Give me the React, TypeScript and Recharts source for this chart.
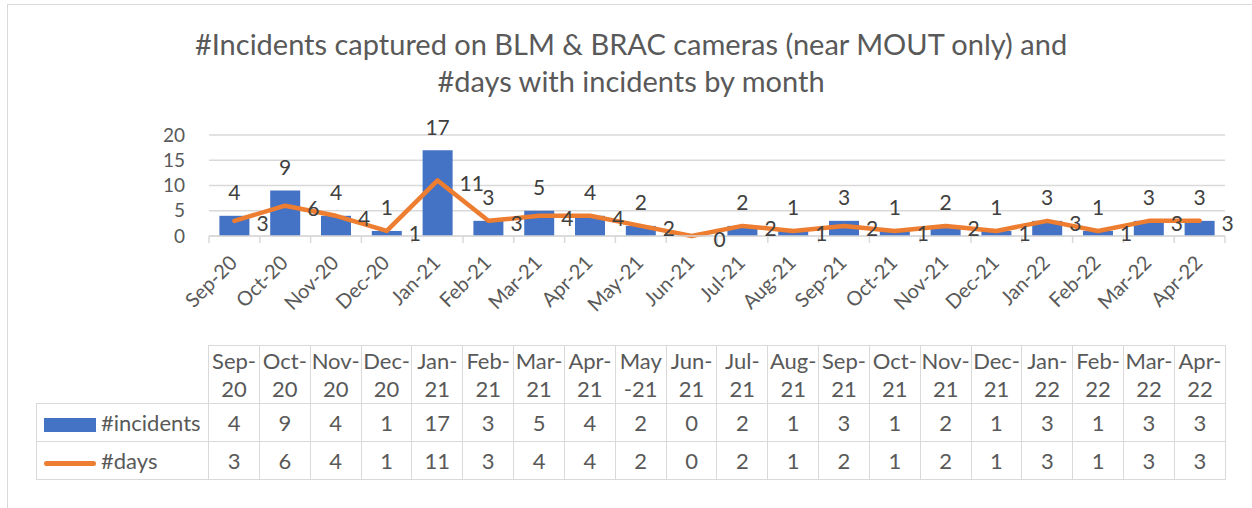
import { ComposedChart, Bar, Line, XAxis, YAxis, CartesianGrid, LabelList } from 'recharts';

const months = [
  'Sep-20', 'Oct-20', 'Nov-20', 'Dec-20', 'Jan-21', 'Feb-21', 'Mar-21', 'Apr-21', 'May-21', 'Jun-21',
  'Jul-21', 'Aug-21', 'Sep-21', 'Oct-21', 'Nov-21', 'Dec-21', 'Jan-22', 'Feb-22', 'Mar-22', 'Apr-22',
];
const incidents = [4, 9, 4, 1, 17, 3, 5, 4, 2, 0, 2, 1, 3, 1, 2, 1, 3, 1, 3, 3];
const days = [3, 6, 4, 1, 11, 3, 4, 4, 2, 0, 2, 1, 2, 1, 2, 1, 3, 1, 3, 3];
const yTicks = [0, 5, 10, 15, 20];

const data = months.map((m, i) => ({ month: m, incidents: incidents[i], days: days[i] }));

const FONT = 'Lato, "Noto Sans", sans-serif';
const GREY = '#595959';
const LINE_GREY = '#d9d9d9';
const BLUE = '#4472c4';
const ORANGE = '#ed7d31';
const BAND = 1016 / 20;

function MonthTick(props: any) {
  const { x, y, payload, index } = props;
  const tx = x + 4;
  const ty = y + 28;
  return (
    <g>
      <line x1={x - BAND / 2} y1={y} x2={x - BAND / 2} y2={y + 7} stroke={LINE_GREY} strokeWidth={1.5} />
      {index === months.length - 1 && (
        <line x1={x + BAND / 2} y1={y} x2={x + BAND / 2} y2={y + 7} stroke={LINE_GREY} strokeWidth={1.5} />
      )}
      <text
        x={tx}
        y={ty}
        textAnchor="end"
        fill={GREY}
        fontSize={20}
        fontFamily={FONT}
        transform={`rotate(-45, ${tx}, ${ty})`}
      >
        {payload.value}
      </text>
    </g>
  );
}

function BarValue(props: any) {
  const { x, y, width, value } = props;
  return (
    <text x={x + width / 2} y={y - 24} textAnchor="middle" dominantBaseline="central" fill="#404040" fontSize={21} fontFamily={FONT}>
      {value}
    </text>
  );
}

function LineValue(props: any) {
  const { x, y, value } = props;
  return (
    <text x={x + 22} y={y + 2} textAnchor="start" dominantBaseline="central" fill="#404040" fontSize={21} fontFamily={FONT}>
      {value}
    </text>
  );
}

function headLines(m: string): [string, string] {
  if (m === 'May-21') return ['May', '-21'];
  return [m.slice(0, 4), m.slice(4)];
}

const cell: React.CSSProperties = {
  border: `1.5px solid ${LINE_GREY}`,
  textAlign: 'center',
  padding: 0,
  color: GREY,
};

export default function App() {
  return (
    <div style={{ position: 'absolute', left: 0, top: 0, width: 1252, height: 508, overflow: 'hidden', background: '#fff', fontFamily: FONT }}>
      <div style={{ position: 'absolute', left: 7, top: 4, width: 1300, height: 600, borderLeft: `1.5px solid ${LINE_GREY}`, borderTop: `1.5px solid ${LINE_GREY}` }} />
      <div style={{ position: 'absolute', left: 0, top: 25, width: 1262, textAlign: 'center', color: GREY, fontSize: 29, lineHeight: '37px' }}>
        #Incidents captured on BLM &amp; BRAC cameras (near MOUT only) and
        <br />
        #days with incidents by month
      </div>
      <div style={{ position: 'absolute', left: 0, top: 0 }}>
        <ComposedChart
          width={1252}
          height={340}
          data={data}
          margin={{ top: 135, right: 27, bottom: 44, left: 149 }}
          barCategoryGap="20.5%"
        >
          <CartesianGrid vertical={false} stroke={LINE_GREY} strokeWidth={1.5} />
          <XAxis
            dataKey="month"
            height={60}
            axisLine={{ stroke: LINE_GREY, strokeWidth: 1.5 }}
            tickLine={false}
            tickSize={0}
            tickMargin={0}
            interval={0}
            tick={<MonthTick />}
          />
          <YAxis
            width={60}
            domain={[0, 20]}
            ticks={yTicks}
            interval={0}
            axisLine={false}
            tickLine={false}
            tickMargin={18}
            tick={{ fill: GREY, fontSize: 19, fontFamily: FONT }}
          />
          <Bar dataKey="incidents" fill={BLUE} isAnimationActive={false}>
            <LabelList dataKey="incidents" content={<BarValue />} />
          </Bar>
          <Line
            type="linear"
            dataKey="days"
            stroke={ORANGE}
            strokeWidth={4.5}
            strokeLinecap="round"
            strokeLinejoin="round"
            dot={false}
            isAnimationActive={false}
          >
            <LabelList dataKey="days" content={<LineValue />} />
          </Line>
        </ComposedChart>
      </div>
      <table
        style={{
          position: 'absolute',
          left: 36,
          top: 345,
          width: 1190,
          borderCollapse: 'collapse',
          tableLayout: 'fixed',
          fontSize: 22,
          fontFamily: FONT,
        }}
      >
        <colgroup>
          <col style={{ width: 172 }} />
          {months.map((m) => (
            <col key={m} style={{ width: BAND }} />
          ))}
        </colgroup>
        <tbody>
          <tr style={{ height: 58 }}>
            <td style={{ border: 'none' }} />
            {months.map((m) => {
              const [a, b] = headLines(m);
              return (
                <td key={m} style={{ ...cell, lineHeight: '28px' }}>
                  {a}
                  <br />
                  {b}
                </td>
              );
            })}
          </tr>
          <tr style={{ height: 38 }}>
            <td style={{ ...cell, textAlign: 'left', whiteSpace: 'nowrap' }}>
              <span style={{ display: 'inline-block', width: 52, height: 14, background: BLUE, marginLeft: 7, marginRight: 5, verticalAlign: 'middle' }} />
              #incidents
            </td>
            {incidents.map((v, i) => (
              <td key={i} style={cell}>{v}</td>
            ))}
          </tr>
          <tr style={{ height: 38 }}>
            <td style={{ ...cell, textAlign: 'left', whiteSpace: 'nowrap' }}>
              <span style={{ display: 'inline-block', width: 52, height: 4.5, borderRadius: 3, background: ORANGE, marginLeft: 7, marginRight: 5, verticalAlign: 'middle' }} />
              #days
            </td>
            {days.map((v, i) => (
              <td key={i} style={cell}>{v}</td>
            ))}
          </tr>
        </tbody>
      </table>
    </div>
  );
}
